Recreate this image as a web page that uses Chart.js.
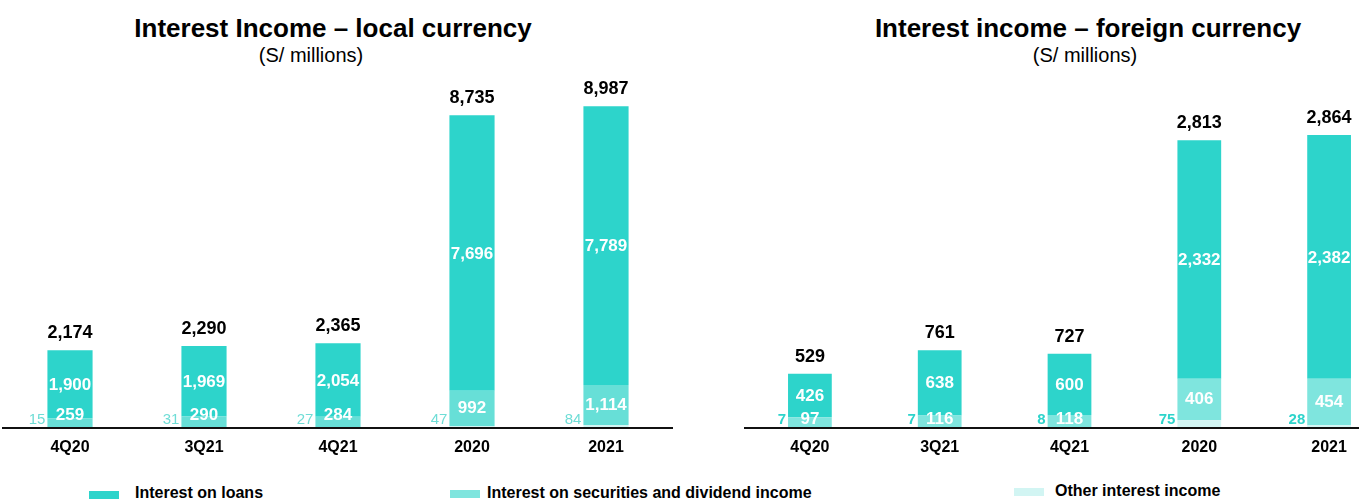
<!DOCTYPE html>
<html><head><meta charset="utf-8">
<script src="https://cdn.jsdelivr.net/npm/chart.js@4.4.0/dist/chart.umd.min.js"></script>
<style>
html,body{margin:0;padding:0;background:#fff;width:1359px;height:501px;overflow:hidden;position:relative;font-family:"Liberation Sans",Arial,sans-serif;}
.t{position:absolute;text-align:center;color:#000;white-space:nowrap;}
.title{font-weight:bold;font-size:26px;line-height:30px;}
.sub{font-size:20px;line-height:22px;}
canvas{position:absolute;top:0;}
.sw{position:absolute;height:8px;width:30px;}
.lt{position:absolute;font-weight:bold;font-size:16px;line-height:18px;color:#000;white-space:nowrap;}
</style></head><body>

<div class="t title" style="left:0;width:666px;top:13px;">Interest Income – local currency</div>
<div class="t sub" style="left:0;width:622px;top:44px;">(S/ millions)</div>
<div class="t title" style="left:817px;width:542px;top:13px;">Interest income – foreign currency</div>
<div class="t sub" style="left:817px;width:536px;top:44px;">(S/ millions)</div>

<canvas id="c1" width="673" height="470" style="left:0;width:673px;height:470px;"></canvas>
<canvas id="c2" width="714" height="470" style="left:680px;width:714px;height:470px;"></canvas>

<div class="sw" style="left:89px;top:491px;background:#2DD4CB;"></div>
<div class="lt" style="left:135px;top:484px;">Interest on loans</div>
<div class="sw" style="left:450px;top:490px;background:#7FE5DE;"></div>
<div class="lt" style="left:487px;top:484px;">Interest on securities and dividend income</div>
<div class="sw" style="left:1014px;top:488px;background:#D2F5F3;"></div>
<div class="lt" style="left:1055px;top:482px;">Other interest income</div>

<script>
const categories = ['4Q20', '3Q21', '4Q21', '2020', '2021'];

const localLoans      = [1900, 1969, 2054, 7696, 7789];
const localSecurities = [259, 290, 284, 992, 1114];
const localOther      = [15, 31, 27, 47, 84];
const localTotals     = [2174, 2290, 2365, 8735, 8987];

const foreignLoans      = [426, 638, 600, 2332, 2382];
const foreignSecurities = [97, 116, 118, 406, 454];
const foreignOther      = [7, 7, 8, 75, 28];
const foreignTotals     = [529, 761, 727, 2813, 2864];

const FONT = '"Liberation Sans", Arial, sans-serif';
const fmt = v => v.toLocaleString('en-US');

const labelPlugin = {
  id: 'barLabels',
  afterDatasetsDraw(chart, args, o) {
    const ctx = chart.ctx;
    const ys = chart.scales.y;
    const axisY = ys.getPixelForValue(0);
    const dOther = chart.data.datasets[0].data;
    const dSec = chart.data.datasets[1].data;
    const dLoan = chart.data.datasets[2].data;
    const mSec = chart.getDatasetMeta(1), mLoan = chart.getDatasetMeta(2);
    ctx.save();
    ctx.textBaseline = 'middle';
    chart.data.labels.forEach((c, i) => {
      const bl = mLoan.data[i];
      const x = bl.x, half = bl.width / 2;
      ctx.fillStyle = '#fff';
      ctx.textAlign = 'center';
      ctx.font = 'bold 17px ' + FONT;
      ctx.fillText(fmt(dLoan[i]), x, (bl.y + bl.base) / 2 + 1);
      const bs = mSec.data[i];
      ctx.fillText(fmt(dSec[i]), x, Math.min((bs.y + bs.base) / 2, axisY - o.secOffset));
      ctx.fillStyle = o.otherColor;
      ctx.textAlign = 'right';
      ctx.font = o.otherFont;
      ctx.fillText(fmt(dOther[i]), x - half - 2, axisY - 8);
      ctx.fillStyle = '#000';
      ctx.textAlign = 'center';
      ctx.font = 'bold 18px ' + FONT;
      ctx.fillText(fmt(o.totals[i]), x, bl.y - 17);
    });
    ctx.restore();
  }
};

function makeChart(id, loans, sec, other, totals, yMax, padLeft, secColor, lab) {
  return new Chart(document.getElementById(id), {
    type: 'bar',
    data: {
      labels: categories,
      datasets: [
        { label: 'Other interest income', data: other, backgroundColor: '#D2F5F3' },
        { label: 'Interest on securities and dividend income', data: sec, backgroundColor: secColor },
        { label: 'Interest on loans', data: loans, backgroundColor: '#2DD4CB' }
      ]
    },
    options: {
      responsive: false,
      animation: false,
      devicePixelRatio: 1,
      layout: { padding: { left: padLeft, right: 0, top: 70, bottom: 0 } },
      datasets: { bar: { categoryPercentage: 1, barPercentage: 0.337, borderWidth: 0 } },
      plugins: {
        legend: { display: false },
        tooltip: { enabled: false },
        barLabels: Object.assign({ totals: totals }, lab)
      },
      scales: {
        x: {
          stacked: true,
          grid: { display: false, drawTicks: false },
          border: { display: true, color: '#111', width: 2, z: 1 },
          ticks: { color: '#000', font: { family: FONT, size: 16, weight: 'bold' }, padding: 10 },
          afterFit: s => { s.height = 42; }
        },
        y: { stacked: true, display: false, min: 0, max: yMax }
      }
    },
    plugins: [labelPlugin]
  });
}

makeChart('c1', localLoans, localSecurities, localOther, localTotals, 10000, 3, '#67DFD7',
  { secOffset: 13, otherColor: '#6FDDD6', otherFont: '15px ' + FONT });
makeChart('c2', foreignLoans, foreignSecurities, foreignOther, foreignTotals, 3500, 65, '#7FE5DE',
  { secOffset: 9, otherColor: '#2DD4CB', otherFont: 'bold 15px ' + FONT });
</script>
</body></html>
